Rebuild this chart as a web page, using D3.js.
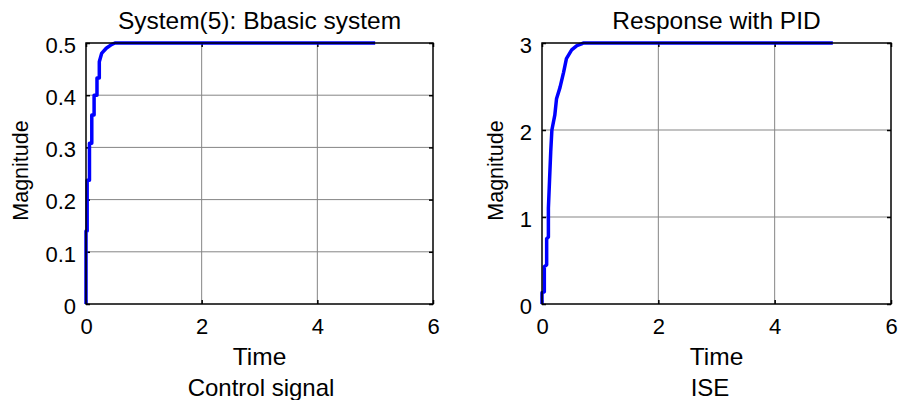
<!DOCTYPE html>
<html>
<head>
<meta charset="utf-8">
<script src="https://cdn.jsdelivr.net/npm/d3@7"></script>
<style>
  html, body { margin: 0; padding: 0; background: #fff; }
  svg text { font-family: "Liberation Sans", Arial, Helvetica, sans-serif; fill: #000; }
</style>
</head>
<body>
<div id="chart"></div>
<script>
// Left subplot: basic system step response
const basicTime = [0, 0, 0.02, 0.02, 0.06, 0.06, 0.10, 0.10, 0.14, 0.14, 0.19, 0.19, 0.23, 0.23, 0.27, 0.35, 0.44, 0.50, 5];
const basicValue = [0, 0.14, 0.14, 0.237, 0.237, 0.308, 0.308, 0.362, 0.362, 0.40, 0.40, 0.433, 0.433, 0.464, 0.480, 0.490, 0.497, 0.5, 0.5];

// Right subplot: response with PID
const pidTime = [0, 0, 0.04, 0.04, 0.08, 0.08, 0.11, 0.11, 0.13, 0.15, 0.17, 0.22, 0.25, 0.31, 0.37, 0.42, 0.51, 0.60, 0.68, 0.71, 5];
const pidValue = [0, 0.13, 0.14, 0.43, 0.45, 0.75, 0.77, 1.10, 1.43, 1.75, 2.0, 2.17, 2.36, 2.49, 2.66, 2.82, 2.92, 2.97, 2.99, 3.0, 3.0];

const xTicks = [0, 2, 4, 6];
const basicYTicks = [0, 0.1, 0.2, 0.3, 0.4, 0.5];
const pidYTicks = [0, 1, 2, 3];

const titles = ['System(5): Bbasic system', 'Response with PID'];
const nextTitles = ['Control signal', 'ISE'];

const W = 898, H = 400;
const svg = d3.select('#chart').append('svg')
  .attr('width', W)
  .attr('height', H);

const panels = [
  { left: 86, right: 433, top: 43, bottom: 304, ymax: 0.5, yTicks: basicYTicks,
    t: basicTime, v: basicValue, title: titles[0], below: nextTitles[0], ylabelX: 28, belowX: 261 },
  { left: 542, right: 891, top: 43, bottom: 304, ymax: 3, yTicks: pidYTicks,
    t: pidTime, v: pidValue, title: titles[1], below: nextTitles[1], ylabelX: 503, belowX: 710 }
];

panels.forEach(p => {
  const x = d3.scaleLinear().domain([0, 6]).range([p.left, p.right]);
  const y = d3.scaleLinear().domain([0, p.ymax]).range([p.bottom, p.top]);
  const g = svg.append('g');

  // grid
  g.selectAll('.gx').data(xTicks.slice(1, -1)).enter().append('line')
    .attr('x1', d => x(d)).attr('x2', d => x(d))
    .attr('y1', p.top).attr('y2', p.bottom)
    .attr('stroke', '#858585').attr('stroke-width', 1);
  g.selectAll('.gy').data(p.yTicks.slice(1, -1)).enter().append('line')
    .attr('x1', p.left).attr('x2', p.right)
    .attr('y1', d => y(d)).attr('y2', d => y(d))
    .attr('stroke', '#858585').attr('stroke-width', 1);

  // axes (inner ticks, no domain path)
  const bottomAxis = d3.axisBottom(x).tickValues(xTicks).tickSizeInner(-4).tickSizeOuter(0).tickPadding(14).tickFormat(d3.format('d'));
  const topAxis = d3.axisTop(x).tickValues(xTicks).tickSizeInner(-4).tickSizeOuter(0).tickFormat('');
  const leftAxis = d3.axisLeft(y).tickValues(p.yTicks).tickSizeInner(-4).tickSizeOuter(0).tickPadding(10)
    .tickFormat(d => d === 0 ? '0' : (p.ymax < 1 ? d3.format('.1f')(d) : d3.format('d')(d)));
  const rightAxis = d3.axisRight(y).tickValues(p.yTicks).tickSizeInner(-4).tickSizeOuter(0).tickFormat('');

  const axes = [
    g.append('g').attr('transform', `translate(0,${p.bottom})`).call(bottomAxis),
    g.append('g').attr('transform', `translate(0,${p.top})`).call(topAxis),
    g.append('g').attr('transform', `translate(${p.left},0)`).call(leftAxis),
    g.append('g').attr('transform', `translate(${p.right},0)`).call(rightAxis)
  ];
  axes.forEach(a => {
    a.select('.domain').remove();
    a.selectAll('.tick line').attr('stroke', '#000').attr('stroke-width', 1.5);
    a.selectAll('.tick text').style('font-size', '22px').attr('fill', '#000');
  });
  axes[2].selectAll('.tick text').attr('dy', '0.42em');

  // curve
  const pts = p.t.map((t, i) => [t, p.v[i]]);
  g.append('path')
    .datum(pts)
    .attr('fill', 'none')
    .attr('stroke', '#0000ff')
    .attr('stroke-width', 3.5)
    .attr('stroke-linejoin', 'round')
    .attr('d', d3.line().x(d => x(d[0])).y(d => y(d[1])));

  // box
  g.append('rect')
    .attr('x', p.left).attr('y', p.top)
    .attr('width', p.right - p.left).attr('height', p.bottom - p.top)
    .attr('fill', 'none').attr('stroke', '#000').attr('stroke-width', 1.5);

  // labels
  const cx = (p.left + p.right) / 2;
  g.append('text').attr('x', cx).attr('y', 29).attr('text-anchor', 'middle')
    .style('font-size', '24.5px').text(p.title);
  g.append('text').attr('x', cx).attr('y', 365).attr('text-anchor', 'middle')
    .style('font-size', '24.5px').text('Time');
  g.append('text').attr('x', p.belowX).attr('y', 396).attr('text-anchor', 'middle')
    .style('font-size', '24px').text(p.below);
  g.append('text')
    .attr('transform', `translate(${p.ylabelX},${(p.top + p.bottom) / 2 - 3}) rotate(-90)`)
    .attr('text-anchor', 'middle')
    .style('font-size', '21.5px').text('Magnitude');
});
</script>
</body>
</html>
